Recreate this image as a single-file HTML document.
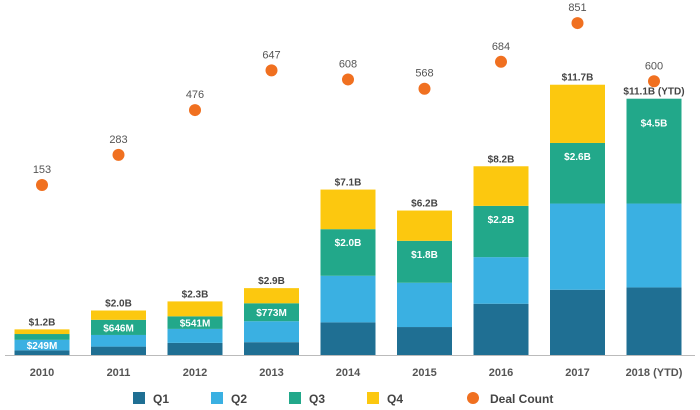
<!DOCTYPE html>
<html><head><meta charset="utf-8"><style>
body{margin:0;background:#fff;width:700px;height:410px;overflow:hidden}
svg{display:block;font-family:"Liberation Sans",sans-serif}
</style></head><body>
<svg id="c" width="700" height="410"></svg>
<script>
const years=["2010","2011","2012","2013","2014","2015","2016","2017","2018 (YTD)"];
const q1=[0.2,0.36,0.52,0.55,1.4,1.2,2.2,2.8,2.9];
const q2=[0.45,0.5,0.6,0.9,2.0,1.9,2.0,3.7,3.6];
const q3=[0.25,0.65,0.54,0.77,2.0,1.8,2.2,2.6,4.5];
const q4=[0.2,0.4,0.64,0.65,1.7,1.3,1.7,2.5,0];
const totals=["$1.2B","$2.0B","$2.3B","$2.9B","$7.1B","$6.2B","$8.2B","$11.7B","$11.1B (YTD)"];
const innerLabels=["$249M","$646M","$541M","$773M","$2.0B","$1.8B","$2.2B","$2.6B","$4.5B"];
const innerSeg=[1,2,2,2,2,2,2,2,2];
const deals=[153,283,476,647,608,568,684,851,600];
const NS="http://www.w3.org/2000/svg";
const svg=document.getElementById('c');
const base=355, pxPerB=23.3;
const xC=i=>42+i*76.5;
const yV=v=>base-v*pxPerB;
const yD=d=>220.5-d*0.232;
const colors=["#1f6f93","#3ab0e2","#22a88a","#fcc80f"];
function mk(t,a,txt){const e=document.createElementNS(NS,t);for(const k in a)e.setAttribute(k,a[k]);if(txt!==undefined)e.textContent=txt;svg.appendChild(e);return e;}
const axis=mk('line',{x1:5,x2:695,y1:base+0.5,y2:base+0.5,stroke:'#bbb','stroke-width':1});


const series=[q1,q2,q3,q4];
years.forEach((y,i)=>{
  let cum=0;const bw=55,x=xC(i)-bw/2;let segTops=[];
  series.forEach((s,k)=>{
    const v=s[i];if(v<=0){segTops.push(null);return;}
    const r=mk('rect',{x:x,y:yV(cum+v),width:bw,height:v*pxPerB,fill:colors[k]});
    
    
    segTops.push([cum,cum+v]);cum+=v;
  });
  const seg=segTops[innerSeg[i]];
  const il=mk('text',{x:xC(i),y:(i<4?(yV(seg[0])+yV(seg[1]))/2+4:yV(seg[1])+(i===8?28:17)),'text-anchor':'middle','font-size':10,'font-weight':'bold',fill:'#fff'},innerLabels[i]);
  
  
  const tl=mk('text',{x:xC(i),y:yV(cum)-4,'text-anchor':'middle','font-size':10,'font-weight':'bold',fill:'#444'},totals[i]);
  
  
  const xl=mk('text',{x:xC(i),y:376,'text-anchor':'middle','font-size':11,'font-weight':'bold',fill:'#555'},y);
  
  
  const dc=mk('circle',{cx:xC(i),cy:yD(deals[i]),r:6,fill:'#f07020'});
  
  
  const dl=mk('text',{x:xC(i),y:yD(deals[i])-12,'text-anchor':'middle','font-size':11,fill:'#555'},deals[i]);
  
  
});
const leg=[["Q1",133],["Q2",211],["Q3",289],["Q4",367]];
leg.forEach((l,k)=>{
  const s=mk('rect',{x:l[1],y:392,width:12,height:12,fill:colors[k]});
  
  
  const t=mk('text',{x:l[1]+20,y:403,'font-size':12,'font-weight':'bold',fill:'#444'},l[0]);
  
  
});
const ld=mk('circle',{cx:473,cy:398,r:6,fill:'#f07020'});


const lt=mk('text',{x:490,y:403,'font-size':12,'font-weight':'bold',fill:'#444'},"Deal Count");


</script>
</body></html>
